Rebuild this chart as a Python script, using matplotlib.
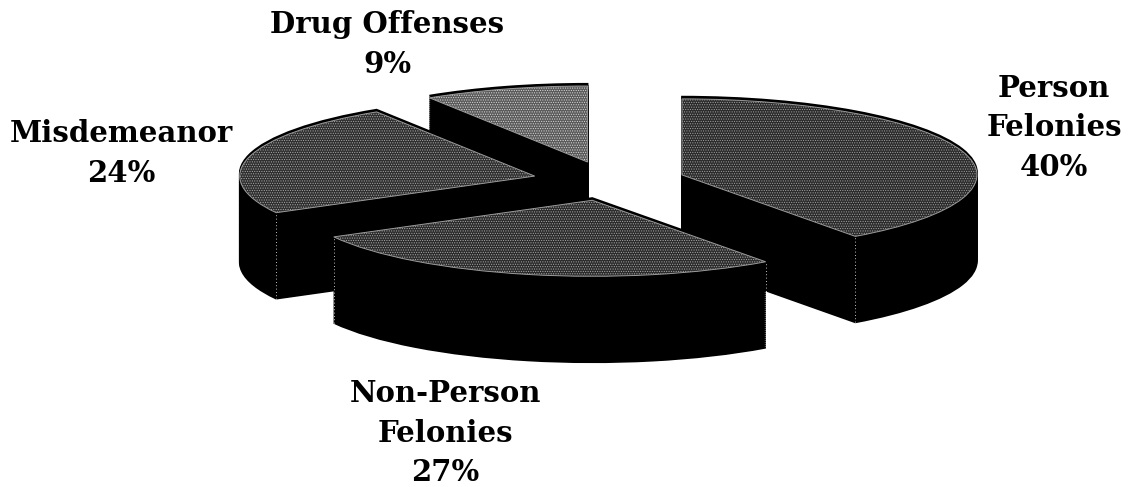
import numpy as np
import matplotlib
matplotlib.use('Agg')
import matplotlib.pyplot as plt

plt.rcParams['hatch.linewidth'] = 0.5
plt.rcParams['font.family'] = 'DejaVu Serif'

# Parts du camembert, dans le sens horaire depuis midi
categories = ['Person\nFelonies', 'Non-Person\nFelonies', 'Misdemeanor', 'Drug Offenses']
values = [40, 27, 24, 9]
top_colors = ['#2b2b2b', '#2b2b2b', '#2f2f2f', '#5a5a5a']
hatch_colors = ['#a0a0a0', '#a8a8a8', '#a8a8a8', '#d8d8d8']
draw_order = [3, 2, 0, 1]  # arriere vers avant

W, H = 1129, 487
cx, cy = 609, 181       # centre en pixels
rx, ry = 295, 76        # rayons de l'ellipse
depth = 86 / ry
explode = 0.26

fig = plt.figure(figsize=(W / 100, H / 100), dpi=100)
ax = fig.add_axes([0, 0, 1, 1])


def pie_layer(dy=0):
    wedges, _ = ax.pie(values, startangle=90, counterclock=False, radius=1,
                       explode=[explode] * 4, center=(0, dy))
    return wedges


# Extrusion : piles de parts noires
for dy in np.linspace(-depth, 0.03, 45):
    for i, w in enumerate(pie_layer(dy)):
        w.set(facecolor='black', edgecolor='black', linewidth=1.2)
        w.set_zorder(10 * draw_order.index(i))

# Faces superieures avec trame pointillee
for i, w in enumerate(pie_layer()):
    w.set(facecolor=top_colors[i], edgecolor=hatch_colors[i], hatch='.......', linewidth=0)
    w.set_zorder(10 * draw_order.index(i) + 1)

# Lisere clair de la face superieure
wedges = pie_layer()
for i, w in enumerate(wedges):
    w.set(facecolor='none', edgecolor='#9a9a9a', linewidth=0.7)
    w.set_zorder(10 * draw_order.index(i) + 2)

# Pointilles blancs sur les aretes verticales avant
for i, w in enumerate(wedges):
    for a in (w.theta1, w.theta2):
        if np.sin(np.radians(a)) < 0.1:
            x0 = w.center[0] + np.cos(np.radians(a))
            y0 = w.center[1] + np.sin(np.radians(a))
            ax.plot([x0, x0], [y0 - depth, y0], color='white', lw=0.6, ls=(0, (1, 3)),
                    zorder=10 * draw_order.index(i) + 3)

ax.set_aspect('auto')
ax.set_xlim(-cx / rx, (W - cx) / rx)
ax.set_ylim(-(H - cy) / ry, cy / ry)
ax.axis('off')

# Etiquettes
label_pos = [(1054, 128), (445, 433), (121, 153.5), (387, 44.5)]
for name, v, (px, py) in zip(categories, values, label_pos):
    fig.text(px / W, 1 - py / H, f'{name}\n{v}%', ha='center', va='center',
             fontsize=21, fontweight='bold', color='black', linespacing=1.47)

fig.savefig('out.png', dpi=100)
